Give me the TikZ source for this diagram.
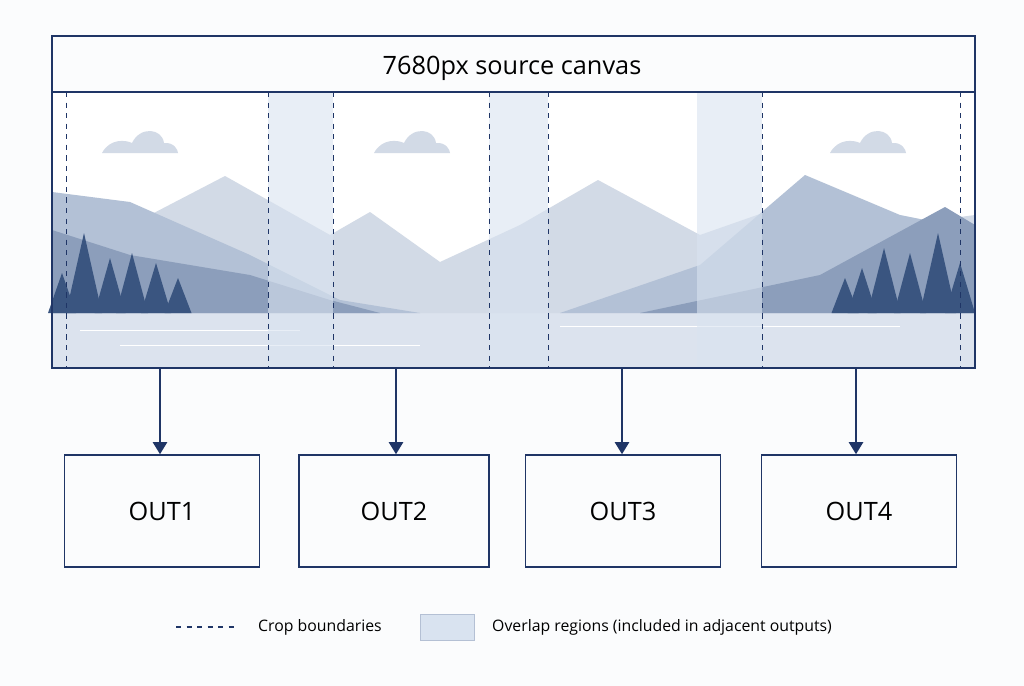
\documentclass[tikz,border=0pt]{standalone}
\usepackage{fontspec}
\setmainfont{Open Sans}
\usetikzlibrary{arrows.meta}
\definecolor{navy}{HTML}{1F3566}
\definecolor{lap}{HTML}{D9E3F0}
\definecolor{mtA}{HTML}{D2DAE6}
\definecolor{mtB}{HTML}{B3C1D6}
\definecolor{mtC}{HTML}{8C9EBB}
\definecolor{tree}{HTML}{3A5580}
\definecolor{lake}{HTML}{DCE3EE}
\begin{document}
\begin{tikzpicture}[x=0.02cm,y=-0.02cm]
    \tikzset{outbox/.style={draw=navy,thick,minimum width=3.9cm,minimum height=2.24cm,font=\Large},
             crop/.style={navy,dashed,thin},
             feed/.style={navy,line width=1.6pt,-{Triangle[length=7pt,width=8pt]}}}
    \useasboundingbox (0,0) rectangle (1024,686);
    \fill[white!60!lake!30] (0,0) rectangle (1024,686);
    \fill[white] (52,92) rectangle (975,368);
    % scenery
    \fill[lake] (52,313) rectangle (975,368);
    \fill[mtA] (52,313) -- (150,215) -- (225,176) -- (330,235) -- (370,212) -- (440,262) -- (520,225) -- (598,180) -- (700,235) -- (800,200) -- (900,225) -- (975,215) -- (975,313) -- cycle;
    \fill[mtB] (52,313) -- (52,192) -- (130,202) -- (250,255) -- (340,300) -- (420,313) -- cycle;
    \fill[mtB] (560,313) -- (700,265) -- (805,175) -- (900,215) -- (975,230) -- (975,313) -- cycle;
    \fill[mtC] (52,313) -- (52,230) -- (130,255) -- (250,275) -- (330,300) -- (380,313) -- cycle;
    \fill[mtC] (640,313) -- (820,275) -- (945,207) -- (975,225) -- (975,313) -- cycle;
    \foreach \x/\h in {62/40,84/80,110/55,132/60,156/50,178/35,845/35,862/45,884/65,910/60,938/80,960/50}
        \fill[tree] (\x-10-\h/10,313) -- (\x,313-\h) -- (\x+10+\h/10,313) -- cycle;
    \foreach \x in {140,412,868}
        \fill[mtA] (\x-38,153) .. controls (\x-30,138) and (\x-14,140) .. (\x-8,143) .. controls (\x,126) and (\x+22,128) .. (\x+24,143) .. controls (\x+34,142) and (\x+38,150) .. (\x+38,153) -- cycle;
    \draw[white,thin] (80,330) -- (300,330) (560,326) -- (900,326) (120,345) -- (420,345);
    % overlaps and crops
    \foreach \a/\b in {268/333,489/548,697/762}
        \fill[lap,opacity=0.6] (\a,92) rectangle (\b,368);
    \foreach \x in {66,268,333,489,548,762,960}
        \draw[crop] (\x,92) -- (\x,368);
    \draw[navy,thick] (52,36) rectangle (975,368);
    \draw[navy,thick] (52,92) -- (975,92);
    \node[font=\Large] (title) at (512,68) {7680px source canvas};
    % outputs
    \node[outbox] (o1) at (162,511) {OUT1};
    \node[outbox,minimum width=3.8cm] (o2) at (394,511) {OUT2};
    \node[outbox] (o3) at (623,511) {OUT3};
    \node[outbox] (o4) at (859,511) {OUT4};
    \foreach \n/\x in {1/160,2/396,3/622,4/856} {
        \coordinate (s\n) at (\x,368);
        \draw[feed] (s\n) -- (s\n |- o\n.north);
    }
    % legend
    \coordinate (l1) at (176,627);
    \coordinate (l2) at (236,627);
    \draw[crop,thick] (l1) -- (l2);
    \node[anchor=west,font=\small] (lt1) at (252,627) {Crop boundaries};
    \node[fill=lap,draw=lap!80!navy,minimum width=1.08cm,minimum height=0.52cm] (lb) at (447,627) {};
    \node[anchor=west,font=\small] (lt2) at (486,627) {Overlap regions (included in adjacent outputs)};
\end{tikzpicture}
\end{document}
